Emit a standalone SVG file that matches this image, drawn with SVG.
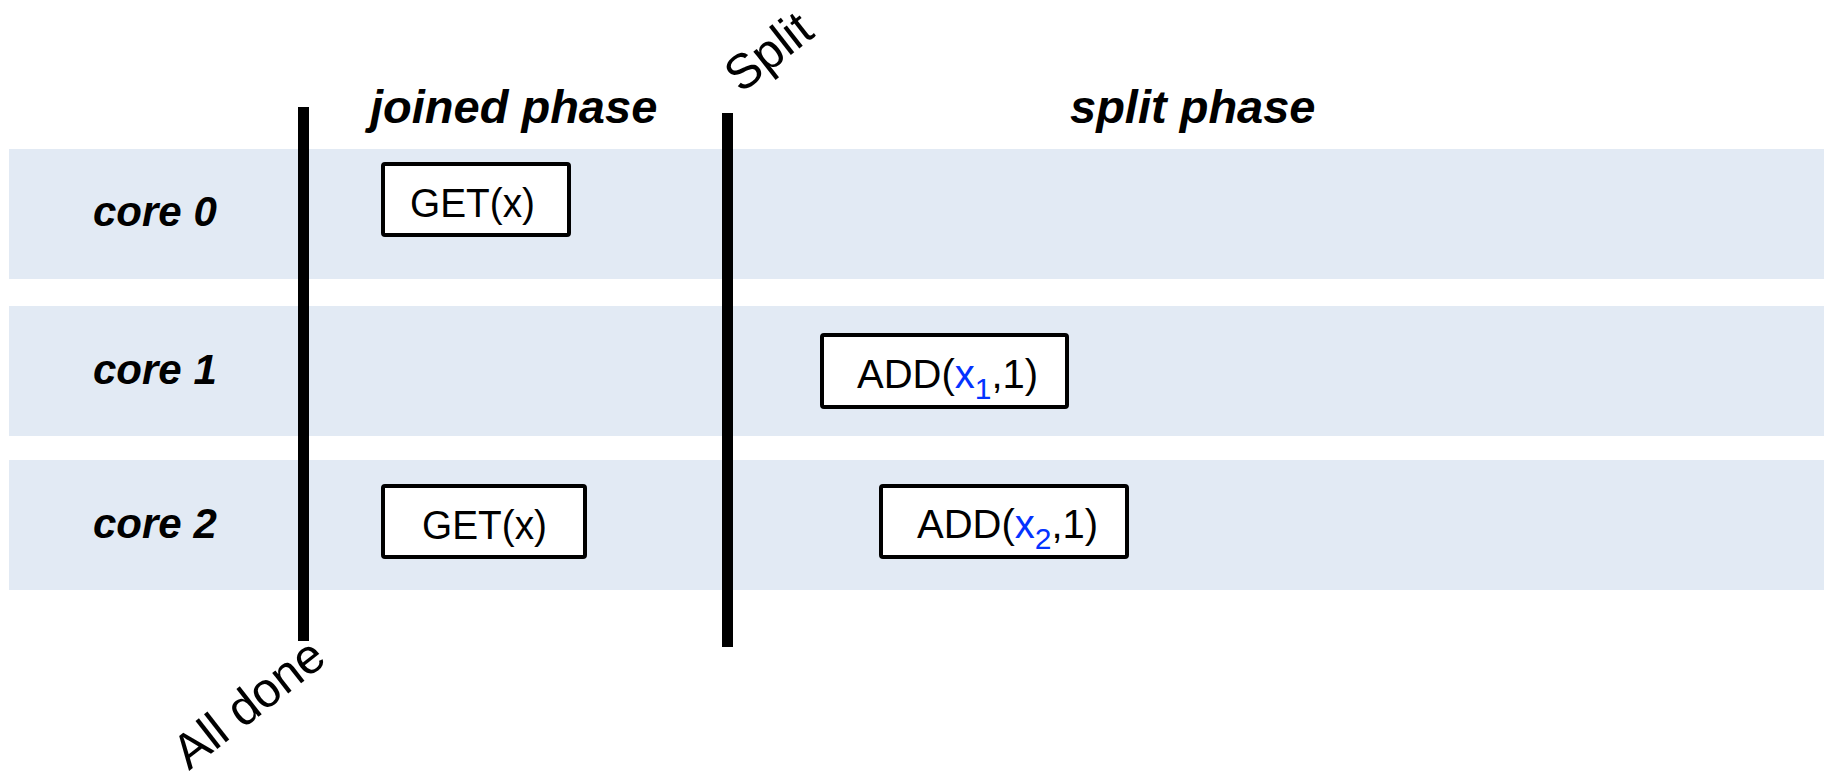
<svg xmlns="http://www.w3.org/2000/svg" width="1824" height="781" viewBox="0 0 1824 781">
<style>
.band{fill:#e2eaf4}
.lbl{font-family:"Liberation Sans",Arial,sans-serif;font-weight:bold;font-style:italic;fill:#000}
.op{font-family:"Liberation Sans",Arial,sans-serif;font-size:40px;fill:#000}
.box{fill:#fff;stroke:#000;stroke-width:4}
.bar{stroke:#000;stroke-width:11;stroke-linecap:butt}
.rot{font-family:"Liberation Sans",Arial,sans-serif;font-size:49px;fill:#000}
.sub{fill:#0433ff}
</style>
<rect width="1824" height="781" fill="#fff"/>
<g id="lanes">
  <rect class="band" x="9" y="149" width="1815" height="130"/>
  <rect class="band" x="9" y="306" width="1815" height="130"/>
  <rect class="band" x="9" y="460" width="1815" height="130"/>
</g>
<g id="headers">
  <text class="lbl" x="370" y="123" font-size="47">joined phase</text>
  <text class="lbl" x="1070" y="123" font-size="47">split phase</text>
</g>
<g id="core-labels">
  <text class="lbl" x="93" y="226" font-size="42">core 0</text>
  <text class="lbl" x="93" y="384" font-size="42">core 1</text>
  <text class="lbl" x="93" y="538" font-size="42">core 2</text>
</g>
<g id="connectors">
  <line class="bar" x1="303.5" y1="107" x2="303.5" y2="641"/>
  <line class="bar" x1="727.5" y1="113" x2="727.5" y2="647"/>
</g>
<g id="get0">
  <rect class="box" x="383" y="164" width="186" height="71" rx="2"/>
  <text class="op" x="410" y="217" font-size="44" textLength="125" lengthAdjust="spacingAndGlyphs">GET(x)</text>
</g>
<g id="get2">
  <rect class="box" x="383" y="486" width="202" height="71" rx="2"/>
  <text class="op" x="422" y="539" font-size="44" textLength="125" lengthAdjust="spacingAndGlyphs">GET(x)</text>
</g>
<g id="add1">
  <rect class="box" x="822" y="335" width="245" height="72" rx="2"/>
  <text class="op" x="857" y="388">ADD(<tspan class="sub">x</tspan><tspan class="sub" font-size="30" dy="11">1</tspan><tspan dy="-11">,1)</tspan></text>
</g>
<g id="add2">
  <rect class="box" x="881" y="486" width="246" height="71" rx="2"/>
  <text class="op" x="917" y="538">ADD(<tspan class="sub">x</tspan><tspan class="sub" font-size="30" dy="11">2</tspan><tspan dy="-11">,1)</tspan></text>
</g>
<g id="split-label">
  <text class="rot" transform="translate(741 94) rotate(-38)">Split</text>
</g>
<g id="alldone-label">
  <text class="rot" transform="translate(189 771) rotate(-38)">All done</text>
</g>
</svg>
